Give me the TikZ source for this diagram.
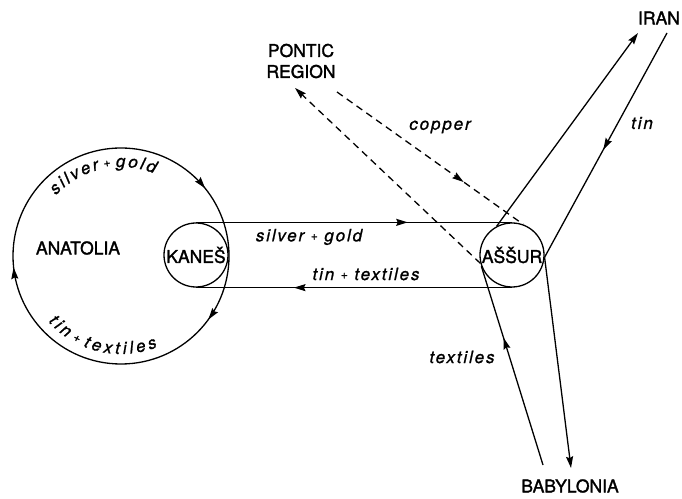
\documentclass[tikz,border=0pt]{standalone}
\usepackage{fontspec}
\setmainfont{TeX Gyre Heros}
\newfontfamily\capsfont[FakeBold=1.6]{TeX Gyre Heros}
\newfontfamily\lblfont[LetterSpace=11,FakeBold=1]{TeX Gyre Heros}
\usetikzlibrary{arrows.meta,decorations.markings,decorations.text}
\newcommand{\capsize}{\capsfont\fontsize{17.5}{21}\selectfont}
\newcommand{\lblsize}{\lblfont\itshape\fontsize{17}{20}\selectfont}
\newcommand{\smallplus}{{\fontsize{12}{12}\selectfont\raisebox{1.5pt}{+}}}
\newcommand{\arcplus}{\hspace{2.5pt}\smallplus\hspace{2.5pt}}
\tikzset{
  ln/.style={line width=1.3pt},
  tipa/.tip={Stealth[length=11.5pt,width=7pt,inset=1.5pt]},
  endarr/.style={ln,-{tipa}},
  midarr/.style={ln,postaction={decorate},decoration={markings,mark=at position #1 with {\arrow{tipa}}}},
  dsh/.style={dash pattern=on 7pt off 5pt},
  place/.style={circle,draw,ln,minimum size=64pt,inner sep=0pt,font=\capsize},
  caps/.style={font=\capsize,inner sep=0pt,align=center},
  lbl/.style={font=\lblsize,inner sep=0pt},
}
\begin{document}
\begin{tikzpicture}[x=1pt,y=1pt]
\useasboundingbox[fill=white] (0,0) rectangle (682,498);

% Anatolia region
\coordinate (anatolia) at (121,242);
\draw[ln,postaction={decorate},decoration={markings,
   mark=at position 0.1 with {\arrow{tipa}},
   mark=at position 0.483 with {\arrow{tipa}},
   mark=at position 0.892 with {\arrow{tipa}}}]
   (anatolia) ++(0:108) arc[start angle=0,delta angle=-360,radius=108];
\node[caps] (anatlabel) at (78,250) {ANATOLIA};

\path[decorate,decoration={text along path,text={|\lblsize|silver{\arcplus}gold},text align=fit to path}]
   (anatolia) ++(137:89) arc[start angle=137,end angle=68,radius=89];
\path[decorate,decoration={text along path,text={|\lblsize|tin{\arcplus}textiles},text align=fit to path}]
   (anatolia) ++(222:98) arc[start angle=222,end angle=292,radius=98];

% cities
\node[place] (kanes) at (196,243) {KANE\v{S}};
\node[place] (assur) at (512,243) {A\v{S}\v{S}UR};

% band between cities
\draw[midarr=0.67] (kanes.north) -- (assur.north);
\draw[midarr=0.69] (assur.south) -- (kanes.south);
\node[lbl] (sg) at (309,261) {silver \smallplus\ gold};
\node[lbl] (tt) at (366,224) {tin \smallplus\ textiles};

% regions
\node[caps] (iran) at (659,480) {IRAN};
\node[caps] (pontic) at (301,437) {PONTIC\\REGION};
\node[caps] (babylonia) at (570,12) {BABYLONIA};

\coordinate (iranA) at (638,465);
\coordinate (iranB) at (667,465);
\coordinate (babA) at (543,33);
\coordinate (babB) at (571,30);
\coordinate (ponA) at (337,406);
\coordinate (ponB) at (295,410);

\draw[endarr] (assur.118) -- (iranA);
\draw[midarr=0.52] (iranB) -- (assur.-4);
\node[lbl] (tin) at (642,375) {tin};

\draw[midarr=0.64] (babA) -- (assur.200);
\draw[endarr] (assur.-4) -- (babB);
\node[lbl] (tex) at (462,141) {textiles};

\draw[midarr=0.68,dsh] (ponA) -- (assur.70);
\draw[endarr,dsh] (assur.195) -- (ponB);
\node[lbl] (cop) at (440,371) {copper};
\end{tikzpicture}
\end{document}
